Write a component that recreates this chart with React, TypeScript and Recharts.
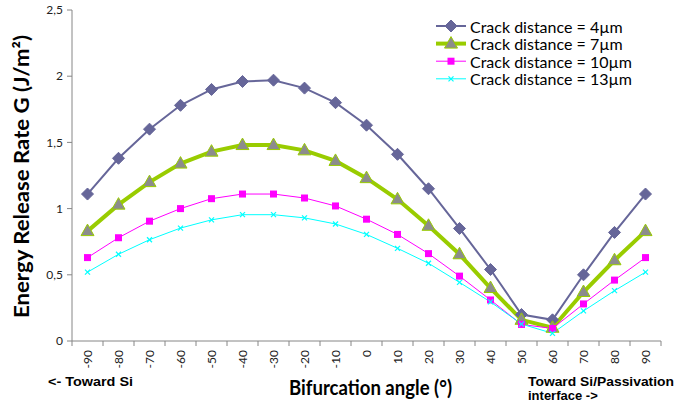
import React from 'react';
import { LineChart, Line, XAxis, YAxis } from 'recharts';

// bifurcation angle (deg) and energy release rate G (J/m2) per crack distance
const angles = [-90, -80, -70, -60, -50, -40, -30, -20, -10, 0, 10, 20, 30, 40, 50, 60, 70, 80, 90];
const g4um = [1.11, 1.38, 1.6, 1.78, 1.9, 1.96, 1.97, 1.91, 1.8, 1.63, 1.41, 1.15, 0.85, 0.54, 0.2, 0.16, 0.5, 0.82, 1.11];
const g7um = [0.83, 1.03, 1.2, 1.34, 1.43, 1.48, 1.48, 1.44, 1.36, 1.23, 1.07, 0.87, 0.655, 0.4, 0.16, 0.1, 0.37, 0.61, 0.83];
const g10um = [0.63, 0.78, 0.905, 1.0, 1.075, 1.11, 1.11, 1.08, 1.02, 0.92, 0.805, 0.66, 0.49, 0.31, 0.125, 0.095, 0.28, 0.46, 0.63];
const g13um = [0.52, 0.655, 0.765, 0.853, 0.915, 0.954, 0.954, 0.93, 0.884, 0.805, 0.7, 0.587, 0.443, 0.295, 0.128, 0.058, 0.227, 0.38, 0.52];

const yTicks = [0, 0.5, 1, 1.5, 2, 2.5];
const seriesNames = ['Crack distance = 4µm', 'Crack distance = 7µm', 'Crack distance = 10µm', 'Crack distance = 13µm'];

const data = angles.map((a, i) => ({ angle: a, g4: g4um[i], g7: g7um[i], g10: g10um[i], g13: g13um[i] }));

const W = 691;
const H = 409;
const PLOT_LEFT = 72;
const PLOT_RIGHT = 661;
const PLOT_TOP = 10;
const PLOT_BOTTOM = 341;
const STEP = (PLOT_RIGHT - PLOT_LEFT) / angles.length;
const AXIS_COLOR = '#868686';
const FONT = 'Lato, "Open Sans", sans-serif';

const Diamond = ({ cx, cy }: any) => (
  <polygon points={`${cx},${cy - 6} ${cx + 6},${cy} ${cx},${cy + 6} ${cx - 6},${cy}`} fill="#666699" stroke="#666699" strokeWidth={1} />
);
const Triangle = ({ cx, cy }: any) => (
  <polygon points={`${cx},${cy - 7} ${cx + 6.5},${cy + 4.5} ${cx - 6.5},${cy + 4.5}`} fill="#8c8c8c" stroke="#99cc00" strokeWidth={1} />
);
const Square = ({ cx, cy }: any) => (
  <rect x={cx - 3.5} y={cy - 3.5} width={7} height={7} fill="#ff00ff" />
);
const Cross = ({ cx, cy }: any) => (
  <g stroke="#00ffff" strokeWidth={1.2}>
    <line x1={cx - 2.5} y1={cy - 2.5} x2={cx + 2.5} y2={cy + 2.5} />
    <line x1={cx - 2.5} y1={cy + 2.5} x2={cx + 2.5} y2={cy - 2.5} />
  </g>
);

const series = [
  { key: 'g4', color: '#666699', width: 2, Dot: Diamond },
  { key: 'g7', color: '#99cc00', width: 4, Dot: Triangle },
  { key: 'g10', color: '#ff00ff', width: 1, Dot: Square },
  { key: 'g13', color: '#00ffff', width: 1, Dot: Cross },
];

const AngleTick = (props: any) => {
  const { x, y, payload, index } = props;
  const last = index === angles.length - 1;
  return (
    <g>
      <line x1={x - STEP / 2} x2={x - STEP / 2} y1={y} y2={y + 5} stroke={AXIS_COLOR} />
      {last && <line x1={x + STEP / 2} x2={x + STEP / 2} y1={y} y2={y + 5} stroke={AXIS_COLOR} />}
      <text
        transform={`translate(${x},${y}) rotate(-90)`}
        x={-9}
        dy="0.35em"
        textAnchor="end"
        fontSize={12}
        fontFamily={FONT}
        fill="#222"
      >
        {payload.value}
      </text>
    </g>
  );
};

export default function App() {
  return (
    <div style={{ position: 'absolute', left: 0, top: 0, width: W, height: H, background: '#fff' }}>
      <LineChart
        width={W}
        height={H}
        data={data}
        margin={{ top: PLOT_TOP, right: W - PLOT_RIGHT, bottom: H - PLOT_BOTTOM - 30, left: PLOT_LEFT - 50 }}
      >
        <XAxis
          dataKey="angle"
          type="number"
          domain={[-95, 95]}
          ticks={angles}
          interval={0}
          height={30}
          tickSize={0}
          tickMargin={0}
          tickLine={false}
          axisLine={{ stroke: AXIS_COLOR }}
          tick={<AngleTick />}
        />
        <YAxis
          width={50}
          domain={[0, 2.5]}
          ticks={yTicks}
          tickSize={5}
          tickMargin={4}
          axisLine={{ stroke: AXIS_COLOR }}
          tickLine={{ stroke: AXIS_COLOR }}
          tickFormatter={(v: number) => String(v).replace('.', ',')}
          tick={{ fontSize: 12, fontFamily: FONT, fill: '#222' }}
        />
        {series.map((s) => (
          <Line
            key={s.key}
            dataKey={s.key}
            stroke={s.color}
            strokeWidth={s.width}
            isAnimationActive={false}
            dot={(p: any) => <s.Dot key={`${s.key}-${p.index}`} cx={p.cx} cy={p.cy} />}
            activeDot={false}
          />
        ))}
      </LineChart>
      <svg width={W} height={H} style={{ position: 'absolute', left: 0, top: 0, pointerEvents: 'none' }}>
        <text
          transform="translate(21,176.5) rotate(-90)"
          textAnchor="middle"
          dominantBaseline="central"
          fontFamily={FONT}
          fontWeight="bold"
          fontSize={20}
          textLength={283}
          lengthAdjust="spacingAndGlyphs"
          fill="#000"
        >
          Energy Release Rate G (J/m²)
        </text>
        <text
          x={370.5}
          y={387}
          textAnchor="middle"
          dominantBaseline="central"
          fontFamily={FONT}
          fontWeight="bold"
          fontSize={20}
          textLength={163}
          lengthAdjust="spacingAndGlyphs"
          fill="#000"
        >
          Bifurcation angle (°)
        </text>
        <g fontFamily='"Liberation Sans", Arial, sans-serif' fontWeight="bold" fontSize={13} fill="#000">
          <text x={48} y={386} textLength={85} lengthAdjust="spacingAndGlyphs">&lt;- Toward Si</text>
          <text x={528} y={385.5} textLength={146} lengthAdjust="spacingAndGlyphs">Toward Si/Passivation</text>
          <text x={528} y={400}>interface -&gt;</text>
        </g>
        {series.map((s, i) => {
          const y = 26 + i * 17.6;
          return (
            <g key={s.key}>
              <line x1={436} x2={466} y1={y} y2={y} stroke={s.color} strokeWidth={s.width} />
              <s.Dot cx={451} cy={y} />
              <text x={470} y={y} dominantBaseline="central" fontFamily={FONT} fontSize={16} fill="#000">
                {seriesNames[i]}
              </text>
            </g>
          );
        })}
      </svg>
    </div>
  );
}
